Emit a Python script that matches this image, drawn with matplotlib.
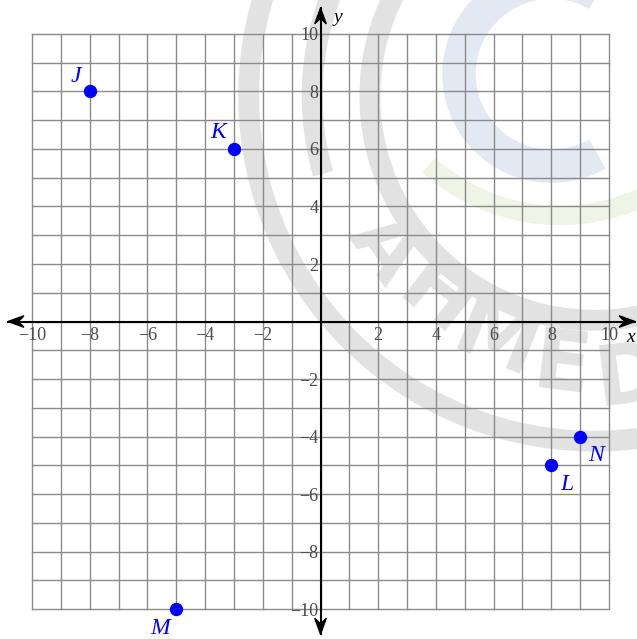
import matplotlib.pyplot as plt
from matplotlib.patches import Arc, Polygon
import numpy as np

# points on the plane
names = ['J', 'K', 'L', 'M', 'N']
xs = [-8, -3, 8, -5, 9]
ys = [8, 6, -5, -10, -4]
# label offsets (points) relative to each dot
label_dx = [-10, -11.5, 11, -11.5, 11.5]
label_dy = [11, 12, -13.7, -13.7, -14]

ticks = [-10, -8, -6, -4, -2, 2, 4, 6, 8, 10]
grid_lo, grid_hi = -10, 10

serif = ['Liberation Serif', 'DejaVu Serif']

fig = plt.figure(figsize=(6.37, 6.39), dpi=100)
ax = fig.add_axes([0, 0, 1, 1])
ax.set_xlim(-11.11, 10.97)
ax.set_ylim(-11.04, 11.18)
ax.axis('off')

# faint watermark in the background
wm_grey = '#e2e2e2'
cx, cy = 9.51, 7.84
ax.add_patch(Arc((cx, cy), 2 * 12.0, 2 * 12.0, theta1=150, theta2=292,
                 color=wm_grey, lw=15, zorder=0))
ax.add_patch(Arc((cx, cy), 2 * 7.8, 2 * 7.8, theta1=150, theta2=292,
                 color=wm_grey, lw=15, zorder=0))
ax.add_patch(Arc((cx, cy), 2 * 9.8, 2 * 9.8, theta1=150, theta2=196,
                 color=wm_grey, lw=15, zorder=0))
ax.add_patch(Arc((8.0, 8.6), 2 * 3.2, 2 * 3.2, theta1=60, theta2=300,
                 color='#e3e9f3', lw=24, zorder=0))
ax.add_patch(Arc((8.3, 10.49), 2 * 6.8, 2 * 6.8, theta1=228, theta2=300,
                 color='#eff4e6', lw=14, zorder=0))
wm_letters = ['A', 'H', 'M', 'E', 'D']
wm_angles = [216, 232, 248, 263, 277]
wm_radii = [9.0, 9.0, 9.2, 9.5, 9.9]
for ch, a, r in zip(wm_letters, wm_angles, wm_radii):
    t = np.deg2rad(a)
    ax.text(cx + r * np.cos(t), cy + r * np.sin(t), ch, fontsize=60,
            color=wm_grey, rotation=a + 90, ha='center', va='center',
            family='DejaVu Sans', weight='semibold', zorder=0)

# grid
for v in range(grid_lo, grid_hi + 1):
    ax.plot([v, v], [grid_lo, grid_hi], color='#8a8a8a', lw=1.0, zorder=1)
    ax.plot([grid_lo, grid_hi], [v, v], color='#8a8a8a', lw=1.0, zorder=1)

# axes with stealth arrow heads
x_ends = (-10.83, 10.9)
y_ends = (-10.87, 10.9)
ax.plot(x_ends, [0, 0], color='black', lw=1.5, zorder=2)
ax.plot([0, 0], y_ends, color='black', lw=1.5, zorder=2)
L, W = 0.55, 0.2
for tip, s in [(x_ends[0], -1), (x_ends[1], 1)]:
    ax.add_patch(Polygon([(tip, 0), (tip - s * L, W), (tip - s * 0.65 * L, 0),
                          (tip - s * L, -W)], color='black', zorder=2))
for tip, s in [(y_ends[0], -1), (y_ends[1], 1)]:
    ax.add_patch(Polygon([(0, tip), (W, tip - s * L), (0, tip - s * 0.65 * L),
                          (-W, tip - s * L)], color='black', zorder=2))

# tick labels
for t in ticks:
    lab = str(t).replace('-', '\u2212')
    ax.text(t, -0.5, lab, ha='center', va='center', fontsize=13,
            color='#4a4a4a', family=serif, zorder=2)
    ax.text(-0.07, t - 0.07, lab, ha='right', va='center', fontsize=13,
            color='#4a4a4a', family=serif, zorder=2)

ax.text(10.73, -0.57, 'x', ha='center', va='center', fontsize=14,
        style='italic', family=serif)
ax.text(0.61, 10.57, 'y', ha='center', va='center', fontsize=14,
        style='italic', family=serif)

# points
ax.plot(xs, ys, 'o', color='#0000ff', markersize=8.6, zorder=3)
for n, x, y, dx, dy in zip(names, xs, ys, label_dx, label_dy):
    ax.annotate(n, (x, y), xytext=(dx, dy), textcoords='offset points',
                ha='center', va='center', fontsize=17, style='italic',
                color='#0000ff', family=serif, zorder=3)

fig.savefig('out.png', dpi=100)
